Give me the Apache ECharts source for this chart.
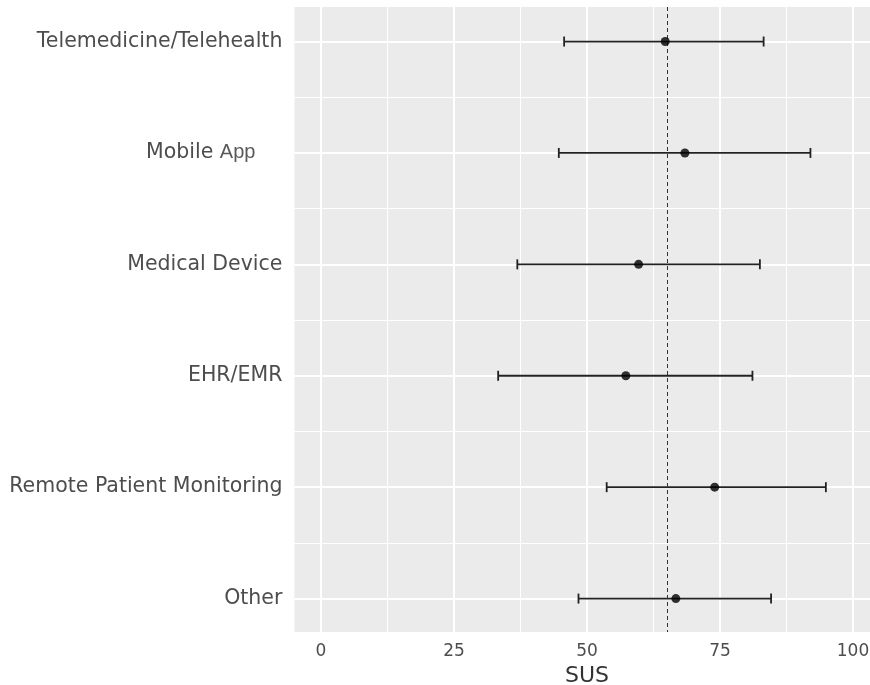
<!DOCTYPE html>
<html>
<head>
<meta charset="utf-8">
<script src="https://cdn.jsdelivr.net/npm/echarts@6/dist/echarts.min.js"></script>
<style>
  html, body { margin: 0; padding: 0; background: #ffffff; }
  #chart { width: 870px; height: 685px; }
</style>
</head>
<body>
<div id="chart"></div>
<script>
// SUS scores by technology type: mean with lower/upper whisker
const categories = ['Telemedicine/Telehealth', 'Mobile App', 'Medical Device', 'EHR/EMR', 'Remote Patient Monitoring', 'Other'];
const meanSUS  = [64.7, 68.4, 59.7, 57.3, 74.0, 66.7];
const lowerSUS = [45.7, 44.7, 36.9, 33.3, 53.7, 48.4];
const upperSUS = [83.2, 92.0, 82.5, 81.1, 94.9, 84.6];
const referenceSUS = 65;
const xTicks = [0, 25, 50, 75, 100];
const xMinorTicks = [12.5, 37.5, 62.5, 87.5];
const yTicks = [0, 1, 2, 3, 4, 5];
const yMinorTicks = [0.5, 1.5, 2.5, 3.5, 4.5];

const FONT = 'DejaVu Sans';
const chart = echarts.init(document.getElementById('chart'), null, { renderer: 'canvas' });

// white panel grid lines (ggplot-like major / minor)
const gridLines = []
  .concat(xTicks.map(v => ({ xAxis: v, lineStyle: { width: 2 } })))
  .concat(xMinorTicks.map(v => ({ xAxis: v, lineStyle: { width: 1 } })))
  .concat(yTicks.map(v => ({ yAxis: v, lineStyle: { width: 2 } })))
  .concat(yMinorTicks.map(v => ({ yAxis: v, lineStyle: { width: 1 } })));

const option = {
  animation: false,
  grid: {
    left: 294.4, top: 7, width: 585.2, bottom: 53,
    outerBoundsMode: 'none', containLabel: false,
    show: true, backgroundColor: '#ebebeb', borderWidth: 0
  },
  xAxis: {
    type: 'value', min: -5, max: 105,
    name: 'SUS', nameLocation: 'middle', nameGap: 32,
    nameTextStyle: { fontFamily: FONT, fontSize: 22, color: '#333333' },
    axisLine: { show: false },
    axisTick: { show: true, customValues: xTicks, length: 5, lineStyle: { color: '#4d4d4d', width: 1.5 } },
    axisLabel: { customValues: xTicks, margin: 11, fontFamily: FONT, fontSize: 17, color: '#4d4d4d' },
    splitLine: { show: false }
  },
  yAxis: {
    type: 'value', inverse: true, min: -0.31, max: 5.3,
    axisLine: { show: false },
    axisTick: { show: true, customValues: yTicks, length: 7, lineStyle: { color: '#4d4d4d', width: 1.5 } },
    axisLabel: {
      customValues: yTicks, margin: 12, fontFamily: FONT, fontSize: 20.5, color: '#4d4d4d',
      formatter: v => {
        const name = categories[Math.round(v)];
        if (name === 'Mobile App') return '{m|Mobile} {a|App}';
        return name;
      },
      rich: {
        m: { fontFamily: FONT, fontSize: 20.5, color: '#4d4d4d' },
        a: { fontFamily: 'Liberation Sans', fontSize: 20, color: '#5a5a5a', padding: [0, 27, 0, 0] }
      }
    },
    splitLine: { show: false }
  },
  series: [
    {
      name: 'grid', type: 'scatter', data: [], z: 1, silent: true,
      markLine: {
        z: 1, silent: true, symbol: 'none', label: { show: false },
        lineStyle: { color: '#ffffff', type: 'solid' },
        data: gridLines
      }
    },
    {
      name: 'reference', type: 'scatter', data: [], z: 5, silent: true,
      markLine: {
        z: 5, silent: true, symbol: 'none', label: { show: false },
        lineStyle: { color: '#333333', type: [4, 3], width: 1 },
        data: [{ xAxis: referenceSUS }]
      }
    },
    {
      name: 'range', type: 'custom', z: 3,
      data: categories.map((c, i) => [i, lowerSUS[i], upperSUS[i]]),
      encode: { x: [1, 2], y: 0 },
      renderItem: (params, api) => {
        const idx = api.value(0);
        const a = api.coord([api.value(1), idx]);
        const b = api.coord([api.value(2), idx]);
        const cap = 5;
        const style = { stroke: '#222222', lineWidth: 1.8, fill: null };
        return {
          type: 'group',
          children: [
            { type: 'line', shape: { x1: a[0], y1: a[1], x2: b[0], y2: b[1] }, style },
            { type: 'line', shape: { x1: a[0], y1: a[1] - cap, x2: a[0], y2: a[1] + cap }, style },
            { type: 'line', shape: { x1: b[0], y1: b[1] - cap, x2: b[0], y2: b[1] + cap }, style }
          ]
        };
      }
    },
    {
      name: 'mean', type: 'scatter', z: 6,
      data: meanSUS.map((m, i) => [m, i]),
      symbol: 'circle', symbolSize: 9,
      itemStyle: { color: '#000000' }
    }
  ]
};
chart.setOption(option);
</script>
</body>
</html>
